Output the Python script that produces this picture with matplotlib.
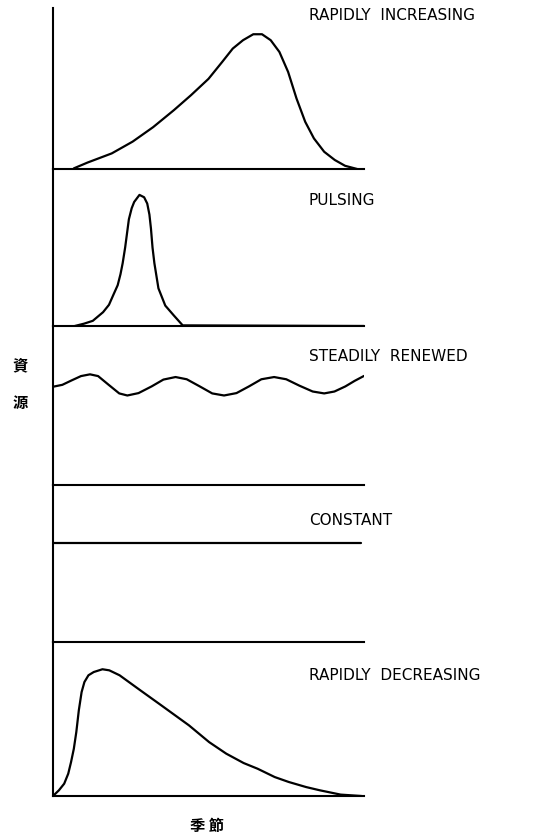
import matplotlib.pyplot as plt
import numpy as np

# Season axis (0-100) and resource level (0-100) for each pattern
inc_x = [6.7, 11.1, 18.9, 25.6, 32.2, 38.9, 44.4, 50, 54.4, 57.8, 61.1, 64.4, 67.2, 70,
         72.8, 75.6, 78.3, 81.1, 83.9, 87.2, 90.6, 93.9, 97.8]
inc_y = [0.4, 4, 9.7, 17, 26, 36.6, 45.9, 56, 66.5, 74.8, 80, 83.7, 83.7, 80,
         72.7, 60.3, 43.8, 29.3, 19, 10.7, 5.6, 2, 0]

pulse_x = [7, 10, 12.8, 16.1, 18, 19.4, 20.8, 21.7, 22.4, 23.2, 24.4, 25.3, 26.1, 27.8, 29.3,
           30.3, 31, 31.5, 32, 32.6, 33.9, 36.1, 38.9, 41.7, 100]
pulse_y = [0, 1.5, 3.3, 8.8, 13.5, 19.8, 26, 33, 40, 50, 68, 75, 79, 83.5, 82,
           78, 71, 62, 50, 40, 24, 13, 6.6, 0.4, 0]

wave_x = [0, 3, 6, 9, 11.9, 14.5, 17.9, 21.3, 23.9, 27.5, 31.7, 35.5, 39.4, 43, 47.2, 51.2,
          55, 59, 63, 67, 71.1, 75, 79.2, 83.5, 87.2, 90.5, 94, 97, 100]
wave_y = [61.8, 63, 65.8, 68.5, 69.6, 68.5, 63, 57.6, 56.3, 57.8, 62, 66.3, 67.9, 66.5, 62, 57.6,
          56.3, 57.8, 62, 66.5, 67.9, 66.5, 62.5, 58.8, 57.6, 58.8, 62, 65.5, 68.6]

const_x = [0, 99]
const_y = [63, 63]

dec_x = [0, 1.9, 3.6, 4.9, 5.8, 6.7, 7.5, 8.3, 9.2, 10.1, 11.4, 13.1, 15.9, 18.1, 21.4, 28.1,
         34.8, 43.7, 50.2, 55.7, 61.3, 65.8, 71.3, 75.8, 81.4, 85.8, 92.5, 99.2]
dec_y = [0, 3.7, 8, 14.5, 22, 30.7, 41.6, 55.6, 67.5, 74, 78.4, 80.5, 82.3, 81.6, 78.4, 68.6,
         58.9, 45.9, 35, 27.5, 21.4, 17.7, 12.3, 9.1, 5.8, 3.7, 0.9, 0]

labels = ['RAPIDLY  INCREASING', 'PULSING', 'STEADILY  RENEWED', 'CONSTANT', 'RAPIDLY  DECREASING']
series = [(inc_x, inc_y), (pulse_x, pulse_y), (wave_x, wave_y), (const_x, const_y), (dec_x, dec_y)]

fig = plt.figure(figsize=(5.41, 8.37), dpi=100)
gs = fig.add_gridspec(5, 1, left=53/541, right=364/541, top=1-9/837, bottom=40/837,
                      hspace=0, height_ratios=[161, 157, 159, 157, 154])

for i, (xs, ys) in enumerate(series):
    ax = fig.add_subplot(gs[i])
    ax.plot(xs, ys, color='black', lw=1.6, solid_capstyle='round', solid_joinstyle='round')
    ax.set_xlim(0, 100)
    ax.set_ylim(0, 100)
    ax.set_xticks([])
    ax.set_yticks([])
    ax.spines['top'].set_visible(False)
    ax.spines['right'].set_visible(False)
    ax.spines['left'].set_linewidth(1.5)
    ax.spines['bottom'].set_linewidth(1.5)
    ax.patch.set_alpha(0)

# pattern names to the right of each panel
label_y = [15, 201, 357, 521, 676]
for txt, yp in zip(labels, label_y):
    fig.text(309/541, 1 - yp/837, txt, fontsize=11, va='center', ha='left',
             family='DejaVu Sans')

cjk = ['Noto Sans CJK JP', 'DejaVu Sans']
fig.text(20/541, 1 - 384/837, '資\n源', fontsize=11, va='center', ha='center',
         family=cjk, fontweight='bold', linespacing=2.7)
fig.text(207/541, 1 - 826/837, '季 節', fontsize=11, va='center', ha='center',
         family=cjk, fontweight='bold')

plt.savefig('out.png', dpi=100)
